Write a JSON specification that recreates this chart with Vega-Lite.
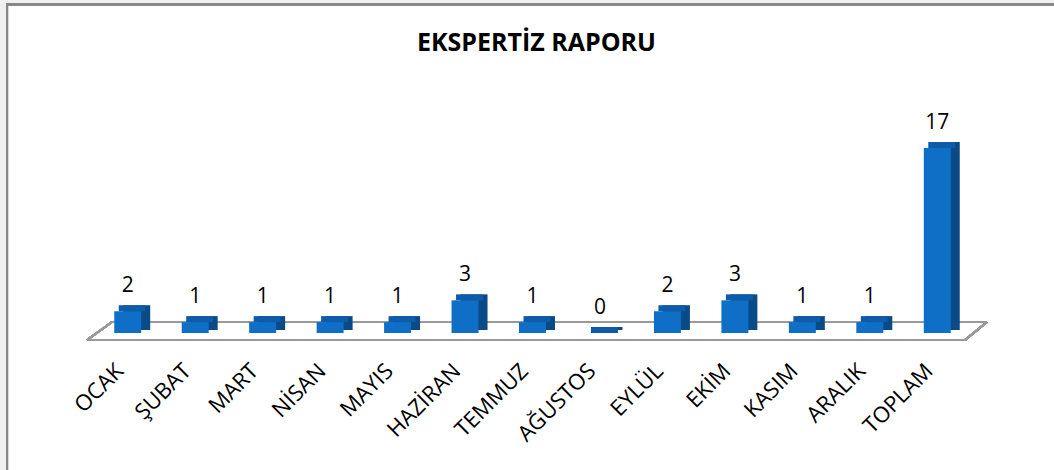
{
  "$schema": "https://vega.github.io/schema/vega-lite/v6.json",
  "autosize": {"type": "none"},
  "width": 877,
  "height": 185,
  "padding": {"left": 94, "top": 148, "right": 83, "bottom": 137},
  "background": "#ffffff",
  "config": {"view": {"stroke": null, "fill": null}},
  "title": {
    "text": "EKSPERTİZ RAPORU",
    "font": "Open Sans",
    "fontWeight": "bold",
    "fontSize": 25,
    "color": "#000000",
    "anchor": "middle",
    "frame": "group",
    "dx": 4,
    "offset": -62
  },
  "data": {
    "values": [
      {"ay": "OCAK", "sayi": 2},
      {"ay": "ŞUBAT", "sayi": 1},
      {"ay": "MART", "sayi": 1},
      {"ay": "NİSAN", "sayi": 1},
      {"ay": "MAYIS", "sayi": 1},
      {"ay": "HAZİRAN", "sayi": 3},
      {"ay": "TEMMUZ", "sayi": 1},
      {"ay": "AĞUSTOS", "sayi": 0},
      {"ay": "EYLÜL", "sayi": 2},
      {"ay": "EKİM", "sayi": 3},
      {"ay": "KASIM", "sayi": 1},
      {"ay": "ARALIK", "sayi": 1},
      {"ay": "TOPLAM", "sayi": 17}
    ]
  },
  "encoding": {
    "x": {
      "field": "ay",
      "type": "nominal",
      "sort": null,
      "scale": {
        "domain": ["OCAK", "ŞUBAT", "MART", "NİSAN", "MAYIS", "HAZİRAN", "TEMMUZ", "AĞUSTOS", "EYLÜL", "EKİM", "KASIM", "ARALIK", "TOPLAM"],
        "paddingInner": 0.6,
        "paddingOuter": 0.3
      },
      "axis": {
        "title": null,
        "labelAngle": -45,
        "labelFont": "Open Sans",
        "labelFontSize": 22,
        "labelColor": "#000000",
        "labelPadding": 27,
        "labelOffset": -15,
        "domain": false,
        "ticks": false
      }
    },
    "y": {
      "field": "sayi",
      "type": "quantitative",
      "scale": {"domain": [0, 17], "nice": false},
      "axis": null
    }
  },
  "layer": [
    {
      "mark": {"type": "rule", "color": "#f0f0f0", "strokeWidth": 12, "xOffset": -127.7, "yOffset": -148, "y2Offset": 160},
      "encoding": {"x": {"datum": "OCAK"}, "y": {"datum": 17}, "y2": {"datum": 0}}
    },
    {
      "mark": {"type": "rule", "color": "#f0f0f0", "strokeWidth": 8, "xOffset": -140, "x2Offset": 140, "yOffset": -148},
      "encoding": {"x": {"datum": "OCAK"}, "x2": {"datum": "TOPLAM"}, "y": {"datum": 17}}
    },
    {
      "mark": {"type": "rule", "color": "#888888", "strokeWidth": 2, "xOffset": -120.7, "yOffset": -143.5, "y2Offset": 160},
      "encoding": {"x": {"datum": "OCAK"}, "y": {"datum": 17}, "y2": {"datum": 0}}
    },
    {
      "mark": {"type": "rule", "color": "#888888", "strokeWidth": 2, "xOffset": -121.7, "x2Offset": 140, "yOffset": -143.5},
      "encoding": {"x": {"datum": "OCAK"}, "x2": {"datum": "TOPLAM"}, "y": {"datum": 17}}
    },
    {
      "mark": {"type": "rule", "color": "#9a9a9a", "strokeWidth": 2, "xOffset": -40.7, "x2Offset": 27.7, "yOffset": 7},
      "encoding": {"x": {"datum": "OCAK"}, "x2": {"datum": "TOPLAM"}, "y": {"datum": 0}}
    },
    {
      "mark": {"type": "rule", "color": "#9a9a9a", "strokeWidth": 2, "xOffset": -15.7, "x2Offset": 49.7, "yOffset": -11},
      "encoding": {"x": {"datum": "OCAK"}, "x2": {"datum": "TOPLAM"}, "y": {"datum": 0}}
    },
    {
      "mark": {"type": "rule", "color": "#9a9a9a", "strokeWidth": 2, "xOffset": -40.7, "x2Offset": -15.7, "yOffset": 7, "y2Offset": -11},
      "encoding": {"x": {"datum": "OCAK"}, "x2": {"datum": "OCAK"}, "y": {"datum": 0}, "y2": {"datum": 0}}
    },
    {
      "mark": {"type": "rule", "color": "#9a9a9a", "strokeWidth": 2, "xOffset": 27.7, "x2Offset": 49.7, "yOffset": 7, "y2Offset": -11},
      "encoding": {"x": {"datum": "TOPLAM"}, "x2": {"datum": "TOPLAM"}, "y": {"datum": 0}, "y2": {"datum": 0}}
    },
    {
      "mark": {"type": "bar", "color": "#0a4a87", "xOffset": 9, "yOffset": -6, "y2Offset": -3},
      "encoding": {"y2": {"datum": 0}}
    },
    {
      "mark": {"type": "bar", "color": "#0d5ba9", "xOffset": 4.5, "yOffset": -6},
      "encoding": {"y2": {"field": "sayi"}}
    },
    {
      "mark": {"type": "bar", "color": "#0f6fc6"}
    },
    {
      "mark": {"type": "text", "font": "Open Sans", "fontSize": 21, "color": "#000000", "baseline": "alphabetic", "dy": -19, "align": "center"},
      "encoding": {"text": {"field": "sayi", "type": "quantitative"}}
    }
  ]
}
